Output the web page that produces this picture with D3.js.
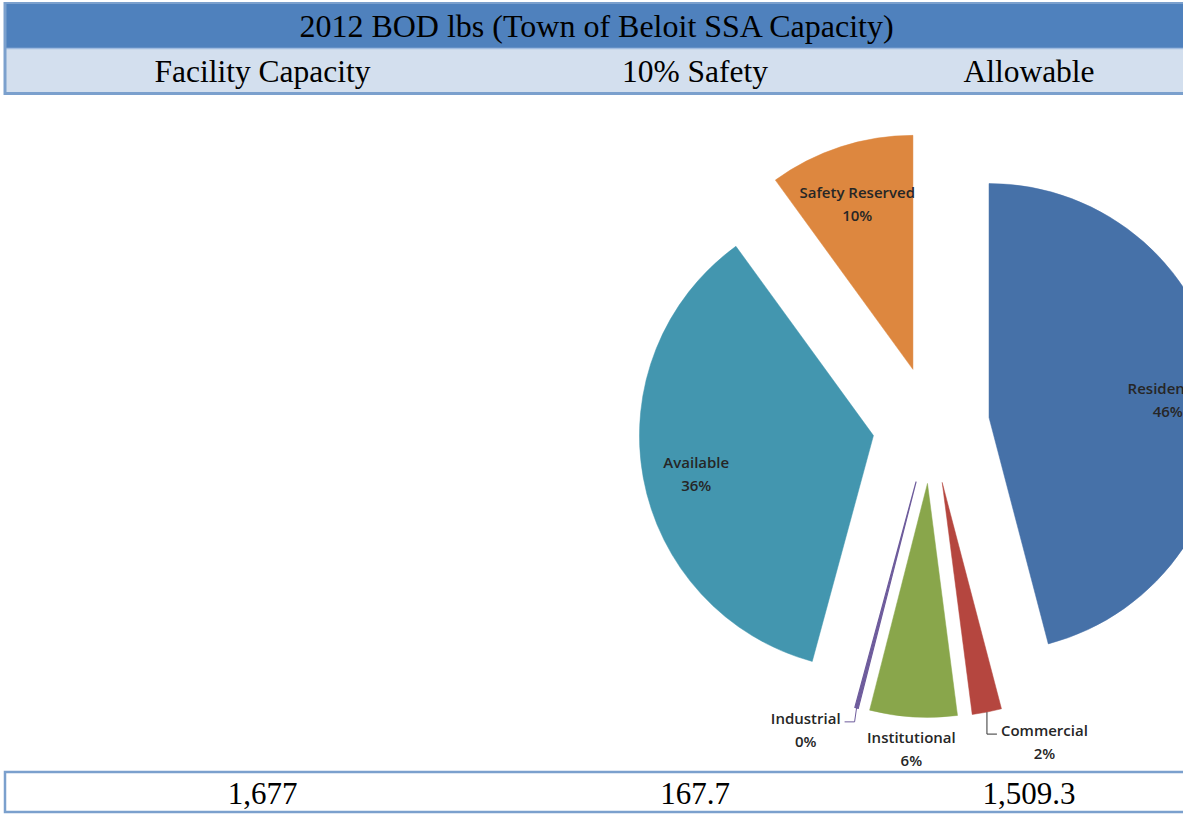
<!DOCTYPE html>
<html>
<head>
<meta charset="utf-8">
<script src="https://cdn.jsdelivr.net/npm/d3@7"></script>
<style>
  html, body { margin: 0; padding: 0; background: #fff; overflow: hidden; }
  svg { display: block; }
</style>
</head>
<body>
<script>
// table contents
const tableTitle = '2012 BOD lbs (Town of Beloit SSA Capacity)';
const columnHeaders = ['Facility Capacity', '10% Safety', 'Allowable'];
const columnValues = [1677, 167.7, 1509.3];

// pie slices (lbs of BOD), clockwise from 12 o'clock
const categories = ['Residential', 'Commercial', 'Institutional', 'Industrial', 'Available', 'Safety Reserved'];
const bodLbs = [770, 34, 101, 4, 600, 167.7];
const sliceColors = ['#4671a8', '#b5463f', '#89a64b', '#6e5c9c', '#4396af', '#dd873f'];

// how each label sits (Excel "best fit" look)
const labelMode = {
  'Residential': 'inside',
  'Commercial': 'leaderRight',
  'Institutional': 'below',
  'Industrial': 'leaderLeft',
  'Available': 'inside',
  'Safety Reserved': 'inside'
};

const W = 1183, H = 814;
const svg = d3.select('body').append('svg').attr('width', W).attr('height', H);

const serif = "'Liberation Serif', 'Times New Roman', serif";
const sans = "'Open Sans', 'Noto Sans', sans-serif";
const borderColor = '#7ba0cd';

// ---- table ----
const tableLeft = 5;
const colWidths = [515, 350, 318];
const colEdges = d3.cumsum([tableLeft].concat(colWidths));
const tableRight = colEdges[colEdges.length - 1];
const colX = d3.scaleOrdinal()
  .domain(d3.range(colWidths.length))
  .range(colWidths.map((w, i) => colEdges[i] + w / 2));

const table = svg.append('g').attr('class', 'table');

// title row
table.append('rect')
  .attr('x', tableLeft).attr('y', 3)
  .attr('width', tableRight - tableLeft).attr('height', 45)
  .attr('fill', '#4f81bd');

// sub header row
table.append('rect')
  .attr('x', tableLeft).attr('y', 49)
  .attr('width', tableRight - tableLeft).attr('height', 44)
  .attr('fill', '#d3dfee');

// header borders
table.append('line')
  .attr('x1', tableLeft).attr('x2', tableRight)
  .attr('y1', 3).attr('y2', 3)
  .attr('stroke', borderColor).attr('stroke-width', 2);
table.append('line')
  .attr('x1', tableLeft).attr('x2', tableRight)
  .attr('y1', 48.5).attr('y2', 48.5)
  .attr('stroke', '#9fbbe0').attr('stroke-width', 1.5);
table.append('line')
  .attr('x1', tableLeft).attr('x2', tableRight)
  .attr('y1', 93.5).attr('y2', 93.5)
  .attr('stroke', borderColor).attr('stroke-width', 3);
table.append('line')
  .attr('x1', tableLeft).attr('x2', tableLeft)
  .attr('y1', 2).attr('y2', 95)
  .attr('stroke', borderColor).attr('stroke-width', 3);

table.append('text')
  .attr('x', (tableLeft + tableRight) / 2)
  .attr('y', 26)
  .attr('text-anchor', 'middle')
  .attr('dominant-baseline', 'central')
  .style('font-family', serif)
  .style('font-size', '32px')
  .attr('fill', '#000')
  .text(tableTitle);

table.selectAll('text.header')
  .data(columnHeaders)
  .join('text')
  .attr('class', 'header')
  .attr('x', (d, i) => colX(i))
  .attr('y', 71)
  .attr('text-anchor', 'middle')
  .attr('dominant-baseline', 'central')
  .style('font-family', serif)
  .style('font-size', '31.5px')
  .attr('fill', '#000')
  .text(d => d);

// bottom (values) row
table.append('rect')
  .attr('x', tableLeft).attr('y', 772)
  .attr('width', tableRight - tableLeft).attr('height', 40)
  .attr('fill', '#fff')
  .attr('stroke', borderColor).attr('stroke-width', 2.5);

const fmt = d3.format(',');
table.selectAll('text.value')
  .data(columnValues)
  .join('text')
  .attr('class', 'value')
  .attr('x', (d, i) => colX(i))
  .attr('y', 793)
  .attr('text-anchor', 'middle')
  .attr('dominant-baseline', 'central')
  .style('font-family', serif)
  .style('font-size', '31px')
  .attr('fill', '#000')
  .text(d => fmt(d));

// ---- exploded pie ----
const cx = 931, cy = 425;
const radius = 234;
const explode = 58.5;

const data = categories.map((c, i) => ({ category: c, value: bodLbs[i], color: sliceColors[i] }));
const total = d3.sum(bodLbs);
const pct = d3.format('.0%');

const pie = d3.pie().sort(null).value(d => d.value);
const arc = d3.arc().innerRadius(0).outerRadius(radius);
const insideArc = d3.arc().innerRadius(radius * 0.77).outerRadius(radius * 0.77);

const arcs = pie(data);
const midAngle = a => (a.startAngle + a.endAngle) / 2;
const polar = (angle, r) => [Math.sin(angle) * r, -Math.cos(angle) * r];

const pieG = svg.append('g').attr('class', 'pie');

const slices = pieG.selectAll('g.slice')
  .data(arcs)
  .join('g')
  .attr('class', 'slice')
  .attr('transform', a => {
    const [ox, oy] = polar(midAngle(a), explode);
    return `translate(${cx + ox},${cy + oy})`;
  });

slices.append('path')
  .attr('d', arc)
  .attr('fill', a => a.data.color)
  .attr('stroke', a => a.data.color)
  .attr('stroke-width', a => (a.endAngle - a.startAngle) < 0.02 ? 1.2 : 0.5);

const lineGap = 23;
const labelFont = '15px';
const labelColor = '#262626';

slices.each(function (a) {
  const g = d3.select(this);
  const mode = labelMode[a.data.category];
  const name = a.data.category;
  const share = pct(a.data.value / total);
  const mid = midAngle(a);

  const addLines = (x, y) => {
    const t = g.append('text')
      .attr('text-anchor', 'middle')
      .style('font-family', sans)
      .style('font-size', labelFont)
      .style('font-weight', 600)
      .attr('fill', labelColor);
    t.append('tspan').attr('x', x).attr('y', y - lineGap / 2)
      .attr('dominant-baseline', 'central').text(name);
    t.append('tspan').attr('x', x).attr('y', y + lineGap / 2)
      .attr('dominant-baseline', 'central').text(share);
    return t;
  };

  if (mode === 'inside') {
    const [lx, ly] = insideArc.centroid(a);
    addLines(lx, ly + 5);
  } else if (mode === 'below') {
    const [lx, ly] = polar(mid, radius + 32);
    addLines(lx, ly);
  } else {
    const [px, py] = polar(mid, radius);
    const dir = mode === 'leaderRight' ? 1 : -1;
    const p1 = [px + (dir > 0 ? 0 : -2), py + (dir > 0 ? 22 : 14)];
    const p2 = [p1[0] + dir * 10, p1[1]];
    g.append('path')
      .attr('d', d3.line()([[px, py], p1, p2]))
      .attr('fill', 'none')
      .attr('stroke', dir > 0 ? '#333' : '#6e5c9c')
      .attr('stroke-width', 1);
    // measure first line to centre the percentage under it
    const probe = g.append('text')
      .style('font-family', sans)
      .style('font-size', labelFont)
      .style('font-weight', 600)
      .text(name);
    const w = probe.node().getComputedTextLength();
    probe.remove();
    const lx = p2[0] + dir * (4 + w / 2);
    addLines(lx, p2[1] - 4 + lineGap / 2);
  }
});
</script>
</body>
</html>
